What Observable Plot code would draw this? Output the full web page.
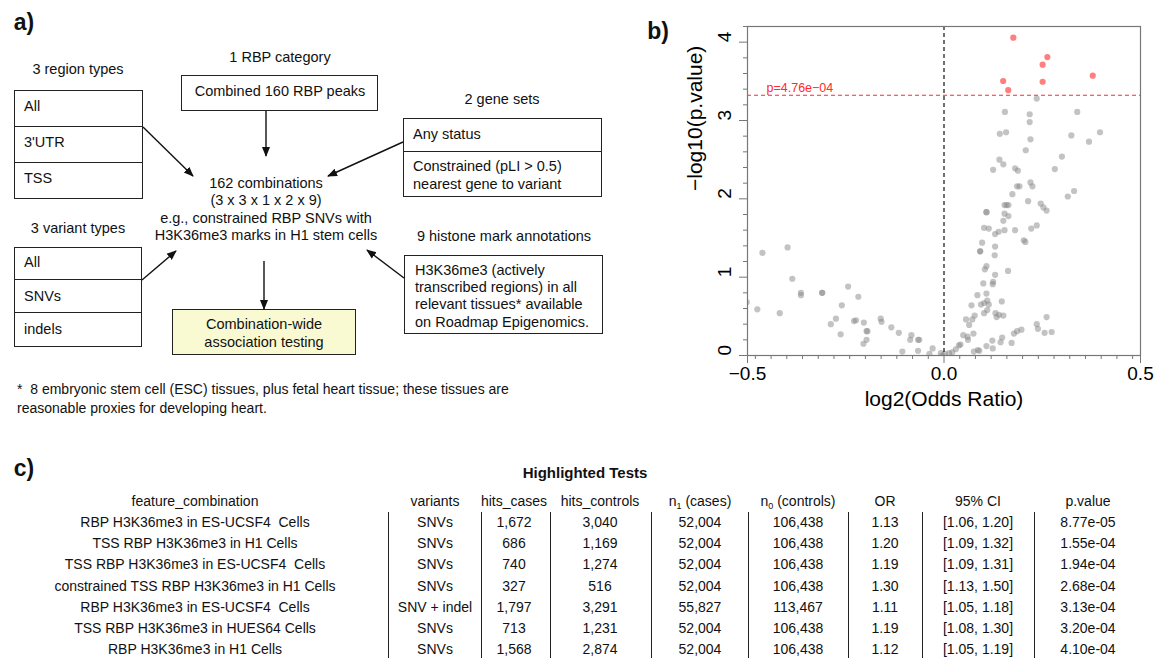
<!DOCTYPE html>
<html>
<head>
<meta charset="utf-8">
<script src="https://cdn.jsdelivr.net/npm/d3@7"></script>
<script src="https://cdn.jsdelivr.net/npm/@observablehq/plot@0.6"></script>
<style>
  html, body { margin: 0; padding: 0; background: #fff; }
  #root { position: relative; width: 1170px; height: 658px; overflow: hidden;
          font-family: "Liberation Sans", Arial, Helvetica, sans-serif; color: #111; }
  .abs { position: absolute; white-space: nowrap; }
  .c { position: absolute; white-space: nowrap; transform: translate(-50%, -50%); text-align: center; }
  .l { position: absolute; white-space: nowrap; transform: translateY(-50%); }
  .box { position: absolute; border: 1.5px solid #222; box-sizing: border-box; }
  .hline { position: absolute; border-top: 1.5px solid #222; height: 0; }
  .panel { font-weight: bold; font-size: 23px; }
  #a { position: absolute; left: 0; top: 0; width: 640px; height: 430px; font-size: 14.5px; }
  #b { position: absolute; left: 640px; top: 0; }
  #c { position: absolute; left: 0; top: 440px; width: 1170px; height: 218px; font-size: 14px; }
  sub { font-size: 9px; vertical-align: -3px; line-height: 0; }
</style>
</head>
<body>
<div id="root">
  <!-- Panel a: study design diagram -->
  <div id="a">
    <div class="c panel" style="left:24px;top:22px;">a)</div>

    <div class="c" style="left:78px;top:69px;">3 region types</div>
    <div class="box" style="left:14px;top:90px;width:129px;height:109px;"></div>
    <div class="hline" style="left:14px;top:126px;width:129px;"></div>
    <div class="hline" style="left:14px;top:162px;width:129px;"></div>
    <div class="l" style="left:24px;top:106px;">All</div>
    <div class="l" style="left:24px;top:142px;">3'UTR</div>
    <div class="l" style="left:24px;top:178px;">TSS</div>

    <div class="c" style="left:280px;top:57px;">1 RBP category</div>
    <div class="box" style="left:181px;top:75px;width:197px;height:36px;"></div>
    <div class="c" style="left:280px;top:91px;">Combined 160 RBP peaks</div>

    <div class="c" style="left:502px;top:99px;">2 gene sets</div>
    <div class="box" style="left:403px;top:118px;width:199px;height:79px;"></div>
    <div class="hline" style="left:403px;top:151px;width:199px;"></div>
    <div class="l" style="left:413px;top:134px;">Any status</div>
    <div class="l" style="left:413px;top:166px;">Constrained (pLI &gt; 0.5)</div>
    <div class="l" style="left:413px;top:184px;">nearest gene to variant</div>

    <div class="c" style="left:266px;top:183px;">162 combinations</div>
    <div class="c" style="left:266px;top:200px;">(3 x 3 x 1 x 2 x 9)</div>
    <div class="c" style="left:266px;top:218px;">e.g., constrained RBP SNVs with</div>
    <div class="c" style="left:266px;top:235px;">H3K36me3 marks in H1 stem cells</div>

    <div class="c" style="left:78px;top:228px;">3 variant types</div>
    <div class="box" style="left:14px;top:247px;width:128px;height:100px;"></div>
    <div class="hline" style="left:14px;top:279px;width:128px;"></div>
    <div class="hline" style="left:14px;top:312px;width:128px;"></div>
    <div class="l" style="left:24px;top:262px;">All</div>
    <div class="l" style="left:24px;top:296px;">SNVs</div>
    <div class="l" style="left:24px;top:329px;">indels</div>

    <div class="c" style="left:504px;top:236px;">9 histone mark annotations</div>
    <div class="box" style="left:404px;top:255px;width:199px;height:79px;"></div>
    <div class="l" style="left:415px;top:270px;">H3K36me3 (actively</div>
    <div class="l" style="left:415px;top:287px;">transcribed regions) in all</div>
    <div class="l" style="left:415px;top:304px;">relevant tissues* available</div>
    <div class="l" style="left:415px;top:322px;">on Roadmap Epigenomics.</div>

    <div class="box" style="left:172px;top:309px;width:184px;height:46px;background:#FAFAD2;"></div>
    <div class="c" style="left:264px;top:324px;">Combination-wide</div>
    <div class="c" style="left:264px;top:342px;">association testing</div>

    <div class="l" style="left:17px;top:389px;font-size:14px;">*&nbsp; 8 embryonic stem cell (ESC) tissues, plus fetal heart tissue; these tissues are</div>
    <div class="l" style="left:17px;top:408px;font-size:14px;">reasonable proxies for developing heart.</div>

    <svg width="640" height="430" style="position:absolute;left:0;top:0;overflow:visible">
      <defs>
        <marker id="ah" viewBox="0 0 10 10" refX="9" refY="5" markerWidth="10" markerHeight="10" orient="auto" markerUnits="userSpaceOnUse">
          <path d="M0,1 L10,5 L0,9 Z" fill="#111"/>
        </marker>
      </defs>
      <g stroke="#111" stroke-width="1.4" marker-end="url(#ah)">
        <line x1="266" y1="111" x2="266" y2="156"/>
        <line x1="143" y1="127" x2="193" y2="176"/>
        <line x1="403" y1="142" x2="328" y2="176"/>
        <line x1="142" y1="280" x2="176" y2="251"/>
        <line x1="404" y1="278" x2="367" y2="250"/>
        <line x1="264" y1="261" x2="264" y2="309"/>
      </g>
    </svg>
  </div>

  <div class="c panel" style="left:658px;top:31px;">b)</div>
  <div id="b"></div>

  <div id="c"></div>
</div>

<script>
// ---------------- Panel b data (volcano plot) ----------------
const grayLog2OR = [
  0.236,0.155,0.339,0.218,0.218,0.142,0.158,0.397,0.324,0.369,0.220,0.208,0.300,0.141,0.151,
  0.125,0.181,0.188,0.282,0.220,0.225,0.186,0.192,0.331,0.315,0.174,0.214,0.246,0.154,0.159,
  0.164,0.253,0.261,0.108,0.108,0.154,0.164,0.151,0.236,0.102,0.114,0.222,0.154,0.181,0.139,
  0.130,0.203,0.207,0.097,0.130,0.092,0.092,0.129,0.108,0.104,0.163,0.130,0.100,0.125,0.124,
  0.085,0.108,0.110,0.147,0.102,0.094,0.070,0.114,0.110,0.102,0.131,0.134,0.151,0.140,0.078,
  0.056,0.072,0.064,0.261,0.236,0.239,0.197,0.186,0.274,0.256,0.178,0.049,0.075,0.060,0.061,
  0.148,0.123,0.144,0.172,0.042,0.038,0.030,0.108,0.086,0.090,0.076,0.124,0.013,0.021,-0.008,
  0.002,-0.004,
  -0.502,-0.462,-0.398,-0.475,-0.418,-0.386,-0.364,-0.364,-0.310,-0.310,-0.244,-0.218,-0.260,
  -0.275,-0.288,-0.263,-0.229,-0.224,-0.204,-0.197,-0.195,-0.205,-0.197,-0.161,-0.159,-0.134,
  -0.115,-0.106,-0.083,-0.086,-0.066,-0.063,-0.066,-0.037,-0.029
];
const grayNegLog10P = [
  3.28,3.11,3.11,3.08,2.98,2.83,2.85,2.85,2.81,2.73,2.76,2.62,2.54,2.50,2.44,
  2.37,2.39,2.36,2.38,2.21,2.16,2.16,2.16,2.10,2.03,2.06,1.97,1.94,1.92,1.92,
  1.92,1.89,1.85,1.83,1.83,1.81,1.78,1.72,1.66,1.63,1.62,1.62,1.60,1.60,1.58,
  1.55,1.47,1.45,1.44,1.39,1.33,1.33,1.28,1.14,1.10,1.08,1.03,0.92,0.94,0.91,
  0.77,0.79,0.70,0.69,0.67,0.65,0.64,0.65,0.58,0.54,0.54,0.49,0.51,0.52,0.51,
  0.46,0.46,0.39,0.49,0.40,0.34,0.33,0.31,0.30,0.29,0.28,0.26,0.28,0.24,0.20,
  0.23,0.19,0.17,0.16,0.14,0.13,0.08,0.12,0.07,0.06,0.05,0.09,0.03,0.04,0.03,
  0.02,0.00,
  0.68,1.31,1.38,0.59,0.54,0.98,0.80,0.77,0.80,0.80,0.88,0.75,0.64,
  0.47,0.40,0.27,0.44,0.45,0.42,0.31,0.31,0.15,0.20,0.47,0.43,0.36,
  0.29,0.05,0.26,0.20,0.20,0.20,0.06,0.02,0.09
];
const thresholdP = 4.76e-4;
const thresholdLabel = "p=4.76e\u221204";
const xTickLabels = [-0.5, 0, 0.5];
const xMinorTicks = [-0.48,-0.44,-0.40,-0.36,-0.32,-0.28,-0.24,-0.20,-0.16,-0.12,-0.08,-0.04,
                     0.04,0.08,0.12,0.16,0.20,0.24,0.28,0.32,0.36,0.40,0.44,0.48];
const yTickLabels = [0, 1, 2, 3, 4];
const yMinorTicks = [0.2,0.4,0.6,0.8,1.2,1.4,1.6,1.8,2.2,2.4,2.6,2.8,3.2,3.4,3.6,3.8,4.2];
const xTitle = "log2(Odds Ratio)";
const yTitle = "\u2212log10(p.value)";

// ---------------- Panel c data (table) ----------------
const tableTitle = "Highlighted Tests";
const colHeaders = ["feature_combination", "variants", "hits_cases", "hits_controls",
                    "n<sub>1</sub> (cases)", "n<sub>0</sub> (controls)", "OR", "95% CI", "p.value"];
const featureCombination = [
  "RBP H3K36me3 in ES-UCSF4&nbsp; Cells",
  "TSS RBP H3K36me3 in H1 Cells",
  "TSS RBP H3K36me3 in ES-UCSF4&nbsp; Cells",
  "constrained TSS RBP H3K36me3 in H1 Cells",
  "RBP H3K36me3 in ES-UCSF4&nbsp; Cells",
  "TSS RBP H3K36me3 in HUES64 Cells",
  "RBP H3K36me3 in H1 Cells"
];
const variants = ["SNVs", "SNVs", "SNVs", "SNVs", "SNV + indel", "SNVs", "SNVs"];
const hitsCases = ["1,672", "686", "740", "327", "1,797", "713", "1,568"];
const hitsControls = ["3,040", "1,169", "1,274", "516", "3,291", "1,231", "2,874"];
const n1Cases = ["52,004", "52,004", "52,004", "52,004", "55,827", "52,004", "52,004"];
const n0Controls = ["106,438", "106,438", "106,438", "106,438", "113,467", "106,438", "106,438"];
const oddsRatio = ["1.13", "1.20", "1.19", "1.30", "1.11", "1.19", "1.12"];
const ci95 = ["[1.06, 1.20]", "[1.09, 1.32]", "[1.09, 1.31]", "[1.13, 1.50]", "[1.05, 1.18]", "[1.08, 1.30]", "[1.05, 1.19]"];
const pValue = ["8.77e-05", "1.55e-04", "1.94e-04", "2.68e-04", "3.13e-04", "3.20e-04", "4.10e-04"];

// ---------------- Build panel b ----------------
const grayPts = grayLog2OR.map((x, i) => ({x, y: grayNegLog10P[i]}));
const redPts = oddsRatio.map((o, i) => ({x: Math.log2(+o), y: -Math.log10(+pValue[i])}));
const thr = -Math.log10(thresholdP);

const volcano = Plot.plot({
  width: 530,
  height: 430,
  marginLeft: 107,
  marginRight: 30,
  marginTop: 26,
  marginBottom: 75,
  x: {domain: [-0.5, 0.5]},
  y: {domain: [0, 4.2]},
  style: {fontFamily: "Liberation Sans, Arial, Helvetica, sans-serif", background: "transparent", color: "#000", overflow: "visible"},
  marks: [
    Plot.dot(grayPts, {x: "x", y: "y", r: 3.1, fill: "#888", fillOpacity: 0.5, clip: true}),
    Plot.dot(redPts, {x: "x", y: "y", r: 3.1, fill: "red", fillOpacity: 0.5, clip: true}),
    Plot.ruleX([0], {stroke: "#111", strokeDasharray: "4,3", strokeWidth: 1.2}),
    Plot.ruleY([thr], {stroke: "#ff2a2a", strokeDasharray: "4,3", strokeWidth: 1.2}),
    Plot.text([thresholdLabel], {y: [thr], frameAnchor: "left", textAnchor: "start", dx: 19, dy: -7, fill: "#ff2a2a", fontSize: 12.5}),
    Plot.frame({stroke: "#777", strokeWidth: 1.2}),
    Plot.axisX(xTickLabels, {tickSize: 8, tickPadding: 3, fontSize: 19, stroke: "#777", tickFormat: d3.format(".1f"), label: null}),
    Plot.axisX(xMinorTicks, {tickSize: 4, stroke: "#777", tickFormat: () => "", label: null}),
    Plot.axisY(yTickLabels, {tickSize: 8, stroke: "#777", tickFormat: () => "", label: null}),
    Plot.axisY(yMinorTicks, {tickSize: 4, stroke: "#777", tickFormat: () => "", label: null}),
    Plot.text(yTickLabels, {y: d => d, text: d => String(d), frameAnchor: "left", dx: -23, rotate: -90, fontSize: 19}),
    Plot.text([xTitle], {frameAnchor: "bottom", dy: 50, fontSize: 21}),
    Plot.text([yTitle], {frameAnchor: "left", dx: -52, rotate: -90, fontSize: 21})
  ]
});
document.getElementById("b").appendChild(volcano);

// ---------------- Build panel c ----------------
const c = document.getElementById("c");
const colCenters = [195, 435, 514, 600, 700, 798, 885, 978, 1088];
const colSeps = [388, 481, 550, 651, 748, 848, 922, 1034];
const rowY0 = 82, rowStep = 21.2, headerY = 61;
function addDiv(html, cls, style) {
  const d = document.createElement("div");
  d.className = cls; d.innerHTML = html; d.style.cssText = style; c.appendChild(d); return d;
}
addDiv("c)", "c panel", "left:24px;top:28px;");
addDiv(tableTitle, "c", "left:585px;top:32px;font-weight:bold;font-size:15px;");
colHeaders.forEach((h, j) => addDiv(h, "c", `left:${colCenters[j]}px;top:${headerY}px;`));
const columns = [featureCombination, variants, hitsCases, hitsControls, n1Cases, n0Controls, oddsRatio, ci95, pValue];
columns.forEach((col, j) => col.forEach((v, i) =>
  addDiv(v, "c", `left:${colCenters[j]}px;top:${rowY0 + i * rowStep}px;`)));
colSeps.forEach(x => addDiv("", "abs", `left:${x}px;top:72px;width:0;height:150px;border-left:1.5px solid #222;`));
</script>
</body>
</html>
